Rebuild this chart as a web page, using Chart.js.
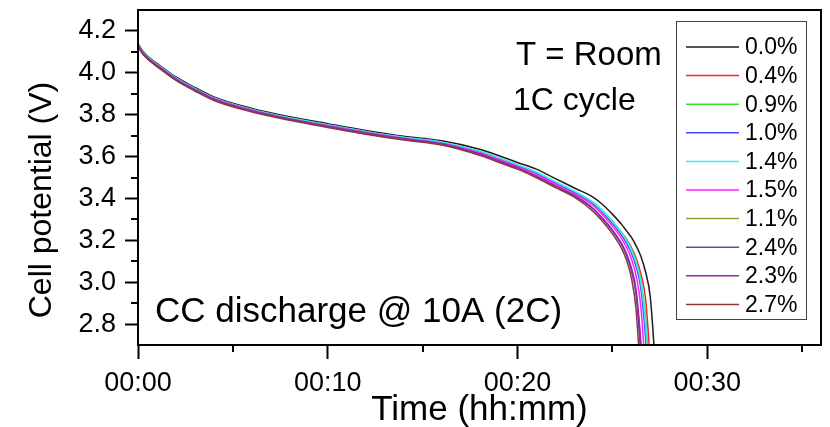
<!DOCTYPE html>
<html lang="en">
<head>
  <meta charset="UTF-8">
  <title>Cell potential vs time</title>
  <script src="https://cdn.jsdelivr.net/npm/chart.js"></script>
  <style>
    body { margin: 0; background: #fff; }
    canvas { display: block; }
  </style>
</head>
<body>
  <canvas id="chart" width="830" height="427"></canvas>
  <script>
    // time axis in minutes, shared by all series
    const timeMin = [0, 0.2, 0.5, 1, 2, 3, 4, 6, 8, 10, 12, 14, 16, 18, 19, 20, 21, 22, 23,
                     24, 24.5, 25, 25.5, 25.75, 26, 26.25, 26.5, 26.75, 27, 27.25, 27.5];

    // cell potential (V)
    const v00 = [4.140, 4.110, 4.080, 4.045, 3.980, 3.930, 3.885, 3.830, 3.790, 3.757, 3.725, 3.697, 3.675,
                 3.635, 3.605, 3.572, 3.540, 3.495, 3.450, 3.405, 3.370, 3.325, 3.275, 3.245, 3.215,
                 3.175, 3.125, 3.050, 2.930, 2.620, 2.200];
    const v04 = [4.128, 4.098, 4.068, 4.032, 3.967, 3.917, 3.872, 3.817, 3.777, 3.744, 3.712, 3.684, 3.660,
                 3.618, 3.587, 3.554, 3.520, 3.474, 3.429, 3.378, 3.338, 3.290, 3.235, 3.205, 3.166,
                 3.116, 3.041, 2.922, 2.617, 2.200, 1.900];
    const v09 = [4.136, 4.106, 4.076, 4.040, 3.975, 3.924, 3.880, 3.825, 3.784, 3.751, 3.719, 3.691, 3.668,
                 3.625, 3.594, 3.560, 3.525, 3.479, 3.434, 3.381, 3.340, 3.291, 3.234, 3.202, 3.159,
                 3.102, 3.013, 2.838, 2.492, 2.100, 1.800];
    const v10 = [4.134, 4.104, 4.074, 4.038, 3.973, 3.922, 3.877, 3.822, 3.782, 3.749, 3.717, 3.689, 3.665,
                 3.621, 3.590, 3.556, 3.520, 3.474, 3.429, 3.374, 3.331, 3.282, 3.223, 3.187, 3.141,
                 3.076, 2.973, 2.737, 2.354, 1.900, 1.600];
    const v14 = [4.137, 4.107, 4.077, 4.041, 3.976, 3.925, 3.880, 3.825, 3.785, 3.752, 3.720, 3.692, 3.669,
                 3.625, 3.594, 3.561, 3.525, 3.479, 3.434, 3.380, 3.338, 3.290, 3.232, 3.198, 3.154,
                 3.095, 3.002, 2.806, 2.447, 2.000, 1.700];
    const v15 = [4.134, 4.104, 4.073, 4.038, 3.972, 3.921, 3.877, 3.822, 3.781, 3.748, 3.716, 3.688, 3.664,
                 3.618, 3.587, 3.553, 3.515, 3.469, 3.423, 3.365, 3.320, 3.269, 3.207, 3.166, 3.113,
                 3.032, 2.887, 2.555, 2.100, 1.800, 1.500];
    const v11 = [4.131, 4.100, 4.070, 4.034, 3.968, 3.918, 3.873, 3.818, 3.778, 3.744, 3.712, 3.684, 3.660,
                 3.612, 3.580, 3.546, 3.506, 3.460, 3.414, 3.350, 3.302, 3.248, 3.180, 3.132, 3.063,
                 2.953, 2.687, 2.283, 1.900, 1.600, 1.300];
    const v24 = [4.132, 4.101, 4.071, 4.035, 3.969, 3.919, 3.874, 3.819, 3.779, 3.745, 3.713, 3.685, 3.661,
                 3.612, 3.580, 3.547, 3.506, 3.460, 3.414, 3.349, 3.301, 3.246, 3.177, 3.128, 3.056,
                 2.942, 2.655, 2.250, 1.900, 1.600, 1.300];
    const v23 = [4.130, 4.099, 4.069, 4.033, 3.967, 3.917, 3.872, 3.817, 3.777, 3.743, 3.711, 3.683, 3.659,
                 3.612, 3.579, 3.546, 3.506, 3.460, 3.414, 3.351, 3.304, 3.250, 3.183, 3.136, 3.070,
                 2.965, 2.719, 2.326, 1.950, 1.600, 1.300];
    const v27 = [4.127, 4.096, 4.066, 4.030, 3.964, 3.913, 3.868, 3.813, 3.773, 3.739, 3.707, 3.679, 3.655,
                 3.606, 3.573, 3.540, 3.499, 3.452, 3.406, 3.337, 3.289, 3.232, 3.159, 3.105, 3.023,
                 2.871, 2.531, 2.150, 1.800, 1.500, 1.200];

    const seriesNames  = ['0.0%', '0.4%', '0.9%', '1.0%', '1.4%', '1.5%', '1.1%', '2.4%', '2.3%', '2.7%'];
    const seriesValues = [v00, v04, v09, v10, v14, v15, v11, v24, v23, v27];
    const seriesColors = ['#1e1e1e', '#ff2020', '#30e030', '#4a4aff', '#30f0f0',
                          '#ff20ff', '#9a9a30', '#5050b8', '#a020b0', '#8a3a3a'];

    // axis ticks
    const xTickValues  = [0, 10, 20, 30];
    const xMinorValues = [5, 15, 25, 35];
    const yTickValues  = [2.8, 3.0, 3.2, 3.4, 3.6, 3.8, 4.0, 4.2];
    const yMinorValues = [2.9, 3.1, 3.3, 3.5, 3.7, 3.9, 4.1];

    const xTitle = 'Time (hh:mm)';
    const yTitle = 'Cell potential (V)';
    const noteTop = ['T = Room', '1C cycle'];
    const noteBottom = 'CC discharge @ 10A (2C)';

    const FONT = "'Liberation Sans', Arial, sans-serif";
    Chart.defaults.font.family = FONT;
    Chart.defaults.color = '#000';

    function fmtTime(v) {
      const h = Math.floor(v / 60), m = Math.round(v % 60);
      return String(h).padStart(2, '0') + ':' + String(m).padStart(2, '0');
    }

    // box, minor ticks, titles, notes and legend
    const decorations = {
      id: 'decorations',
      afterDraw(chart) {
        const { ctx, chartArea: a, scales: { x, y } } = chart;
        ctx.save();
        ctx.strokeStyle = '#000';
        ctx.lineWidth = 2;
        ctx.strokeRect(a.left, a.top, a.right - a.left, a.bottom - a.top);

        ctx.beginPath();
        xMinorValues.forEach(v => {
          const px = Math.round(x.getPixelForValue(v));
          ctx.moveTo(px, a.bottom); ctx.lineTo(px, a.bottom + 7);
        });
        yMinorValues.forEach(v => {
          const py = Math.round(y.getPixelForValue(v));
          ctx.moveTo(a.left, py); ctx.lineTo(a.left - 7, py);
        });
        ctx.stroke();

        ctx.fillStyle = '#000';
        ctx.textAlign = 'center';
        ctx.textBaseline = 'alphabetic';
        ctx.font = '35px ' + FONT;
        ctx.fillText(xTitle, (a.left + a.right) / 2, 420);

        ctx.save();
        ctx.font = '32px ' + FONT;
        ctx.translate(51, 200);
        ctx.rotate(-Math.PI / 2);
        ctx.fillText(yTitle, 0, 0);
        ctx.restore();

        ctx.textAlign = 'left';
        ctx.font = '33px ' + FONT;
        ctx.fillText(noteTop[0], 516, 65);
        ctx.font = '32px ' + FONT;
        ctx.fillText(noteTop[1], 513, 110);
        ctx.font = '35px ' + FONT;
        ctx.fillText(noteBottom, 155, 322);

        // legend
        const lx = 676, ly = 21, lw = 130, lh = 298, row = 28.6;
        ctx.strokeStyle = '#444';
        ctx.lineWidth = 1;
        ctx.strokeRect(lx + 0.5, ly + 0.5, lw, lh);
        ctx.font = '23px ' + FONT;
        ctx.textBaseline = 'middle';
        seriesNames.forEach((name, i) => {
          const yy = ly + 26 + i * row;
          ctx.strokeStyle = seriesColors[i];
          ctx.lineWidth = 1.5;
          ctx.beginPath();
          ctx.moveTo(lx + 10, yy); ctx.lineTo(lx + 63, yy);
          ctx.stroke();
          ctx.fillStyle = '#000';
          ctx.fillText(name, lx + 69, yy + 1);
        });
        ctx.restore();
      }
    };

    const datasets = seriesNames.map((name, i) => ({
      label: name,
      data: timeMin.map((t, j) => ({ x: t, y: seriesValues[i][j] })),
      borderColor: seriesColors[i],
      borderWidth: 1.5,
      pointRadius: 0,
      cubicInterpolationMode: 'monotone',
      fill: false,
      order: seriesNames.length - i
    }));

    new Chart(document.getElementById('chart'), {
      type: 'line',
      data: { datasets },
      options: {
        responsive: false,
        animation: false,
        layout: { padding: { left: 0, top: 10, right: 9, bottom: 0 } },
        plugins: { legend: { display: false }, tooltip: { enabled: false } },
        scales: {
          x: {
            type: 'linear',
            min: 0, max: 36,
            afterFit: s => { s.height = 82; s.paddingLeft = 0; s.paddingRight = 0; },
            afterBuildTicks: s => { s.ticks = xTickValues.map(v => ({ value: v })); },
            grid: { drawOnChartArea: false, tickLength: 14, tickWidth: 2, tickColor: '#000' },
            border: { color: '#000', width: 2 },
            ticks: { font: { size: 27 }, padding: 8, maxRotation: 0, callback: v => fmtTime(v) }
          },
          y: {
            type: 'linear',
            min: 2.7, max: 4.3,
            afterFit: s => { s.width = 138; s.paddingTop = 0; s.paddingBottom = 0; },
            afterBuildTicks: s => { s.ticks = yTickValues.map(v => ({ value: v })); },
            grid: { drawOnChartArea: false, tickLength: 13, tickWidth: 2, tickColor: '#000' },
            border: { color: '#000', width: 2 },
            ticks: { font: { size: 27 }, padding: 9, callback: v => v.toFixed(1) }
          }
        }
      },
      plugins: [decorations]
    });
  </script>
</body>
</html>
